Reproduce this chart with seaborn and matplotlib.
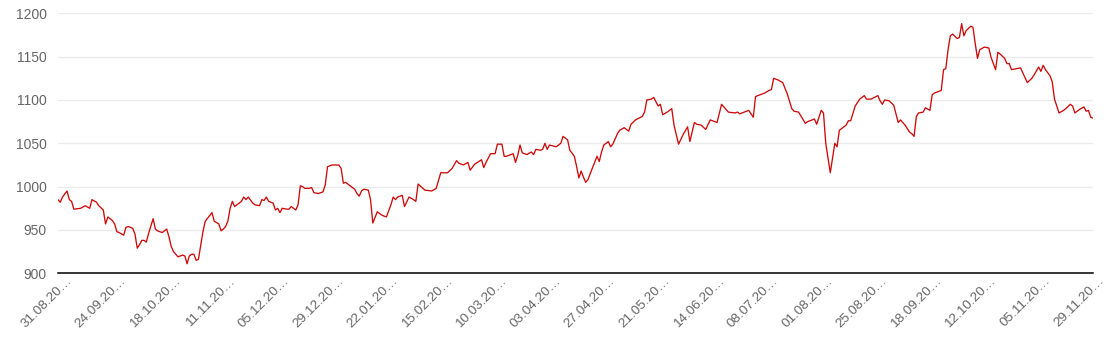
import numpy as np
import pandas as pd
import matplotlib
matplotlib.use("Agg")
import matplotlib.pyplot as plt
import matplotlib.transforms as mtransforms
import seaborn as sns

# ---- data ----
start_date = "2023-08-31"
day_offset = [
    0, 1, 2, 4, 5, 6, 7, 10, 12, 14, 15, 17, 18, 20, 21, 22, 24, 25, 26, 27,
    29, 30, 31, 33, 34, 35, 36, 37, 38, 39, 40, 42, 43, 44, 46, 48, 49, 50, 51, 53,
    55, 56, 57, 58, 59, 60, 61, 62, 64, 65, 68, 69, 71, 72, 73, 74, 75, 76, 77, 78,
    79, 81, 82, 83, 84, 86, 87, 89, 90, 91, 92, 93, 94, 95, 96, 97, 98, 99, 101, 102,
    103, 105, 106, 107, 108, 109, 111, 112, 113, 115, 117, 118, 119, 121, 124, 125, 126, 127, 129, 131,
    132, 133, 134, 135, 137,
    138, 139, 141, 143, 145, 147, 148, 149, 150, 152, 153, 155, 157, 158, 159, 162, 165, 167, 169, 172,
    174, 176, 177, 179, 181, 182, 184, 187, 188, 189, 191, 193, 194, 196, 197, 198, 201, 202, 203, 204,
    205, 207, 209, 210, 211, 213, 214, 215, 216, 217, 220, 222, 223, 225, 226, 228, 229, 230, 231, 232,
    233, 234, 235, 238, 239, 240, 241, 243, 244, 245, 247, 248, 250, 252, 253, 255, 258, 259, 260, 262,
    263, 265, 266, 267, 269, 271, 272, 274, 276, 278, 279, 281, 282, 284, 286, 288, 289, 291, 293, 296,
    299, 300, 301,
    303, 305, 307, 308, 310, 312, 314, 315, 316, 318, 320, 322, 324, 325, 327, 330, 331, 334, 335, 337,
    338, 339, 341, 343, 344, 345, 347, 348, 349, 350, 352, 354, 356, 357, 359, 362, 363, 364, 365, 367,
    369, 371, 372, 374, 376, 377, 378, 379, 380, 382, 383, 385, 386, 387, 390, 391, 392, 393, 394, 395,
    397, 398, 399, 400, 401, 403, 404, 405, 406, 407, 409, 411, 412, 414, 415, 416, 418, 419, 420, 421,
    423, 425, 428, 430, 431, 433, 434, 435, 436, 438, 439, 440, 442, 444, 445, 447, 448, 449, 451, 453,
    454, 455, 456, 457,
]
price = [
    985, 982, 988, 995, 985, 983, 974, 975, 978, 975, 985, 982, 978, 973, 957, 965, 961, 957, 948, 947,
    944, 953, 954, 952, 945, 929, 933, 938, 938, 936, 946, 963, 951, 949, 947, 951, 942, 931, 925, 919,
    921, 920, 911, 920, 922, 922, 915, 916, 948, 960, 970, 960, 957, 949, 951, 954, 960, 975, 983, 977,
    979, 983, 988, 985, 988, 981, 979, 978, 985, 984, 988, 983, 982, 981, 973, 975, 970, 975, 974, 974,
    977, 973, 979, 1001, 1000, 998, 998, 999, 993, 992, 994, 1002, 1023, 1025, 1025, 1021, 1004, 1005, 1001, 997,
    992, 989, 995, 997, 996,
    985, 958, 971, 967, 965, 979, 988, 985, 988, 990, 977, 988, 985, 983, 1003, 996, 995, 998, 1016, 1016,
    1021, 1030, 1027, 1025, 1028, 1019, 1026, 1031, 1022, 1028, 1038, 1038, 1049, 1049, 1035, 1035, 1038, 1028, 1036, 1048,
    1039, 1037, 1040, 1037, 1043, 1042, 1043, 1050, 1043, 1048, 1046, 1050, 1058, 1054, 1042, 1035, 1023, 1010, 1018, 1011,
    1005, 1008, 1015, 1035, 1029, 1040, 1048, 1052, 1046, 1049, 1061, 1065, 1068, 1064, 1072, 1077, 1081, 1086, 1100, 1101,
    1103, 1093, 1095, 1083, 1086, 1090, 1071, 1049, 1060, 1069, 1052, 1074, 1072, 1071, 1066, 1077, 1076, 1074, 1095, 1086,
    1085, 1086, 1084,
    1086, 1088, 1080, 1104, 1106, 1108, 1111, 1112, 1125, 1123, 1120, 1107, 1090, 1087, 1086, 1073, 1075, 1078, 1072, 1088,
    1085, 1050, 1016, 1050, 1046, 1065, 1069, 1071, 1076, 1076, 1093, 1101, 1105, 1101, 1101, 1105, 1099, 1095, 1100, 1099,
    1094, 1074, 1077, 1071, 1063, 1061, 1058, 1081, 1085, 1086, 1091, 1088, 1106, 1108, 1111, 1135, 1136, 1158, 1174, 1176,
    1171, 1172, 1188, 1174, 1180, 1185, 1184, 1165, 1148, 1158, 1161, 1160, 1149, 1135, 1155, 1153, 1148, 1142, 1142, 1135,
    1136, 1137, 1120, 1125, 1129, 1138, 1133, 1140, 1135, 1128, 1121, 1101, 1085, 1088, 1090, 1095, 1093, 1085, 1089, 1092,
    1087, 1088, 1080, 1079,
]
y_ticks = [900, 950, 1000, 1050, 1100, 1150, 1200]
tick_step_days = 12
label_every = 2
total_days = 457

assert len(day_offset) == len(price)

t0 = pd.Timestamp(start_date)
df = pd.DataFrame({
    "date": t0 + pd.to_timedelta(day_offset, unit="D"),
    "price": price,
})

sns.set_style("white")
plt.rcParams["font.family"] = ["Liberation Sans", "DejaVu Sans"]

fig = plt.figure(figsize=(11.12, 3.38), dpi=100)
ax = fig.add_axes([58 / 1112, (338 - 273.3) / 338, (1093 - 58) / 1112, 260 / 338])

sns.lineplot(data=df, x="date", y="price", ax=ax, color="#cc0a0a", linewidth=0.95)

ax.set_xlim(t0, t0 + pd.Timedelta(days=total_days))
ax.set_ylim(900, 1200)
ax.set_yticks(y_ticks)
ax.set_yticklabels([str(v) for v in y_ticks])
ax.yaxis.grid(True, color="#ebebeb", linewidth=1.0)
ax.set_axisbelow(True)

tick_dates = [t0 + pd.Timedelta(days=d) for d in range(0, total_days, tick_step_days)]
ax.set_xticks(tick_dates)
labels = []
for i, d in enumerate(tick_dates):
    labels.append(d.strftime("%d.%m.20") + "\u2026" if i % label_every == 0 else "")
ax.set_xticklabels(labels)

for s in ["left", "right", "top"]:
    ax.spines[s].set_visible(False)
ax.spines["bottom"].set_color("black")
ax.spines["bottom"].set_linewidth(1.1)

ax.tick_params(axis="y", length=0, pad=8, labelsize=10, labelcolor="#666666")
ax.tick_params(axis="x", length=3.2, width=0.9, color="black", pad=1,
               labelsize=9.7, labelcolor="#666666", direction="out")

offset = mtransforms.ScaledTranslation(12 / 100, 0, fig.dpi_scale_trans)
for lbl in ax.get_xticklabels():
    lbl.set_rotation(45)
    lbl.set_rotation_mode("anchor")
    lbl.set_ha("right")
    lbl.set_va("center")
    lbl.set_transform(lbl.get_transform() + offset)

ax.set_xlabel("")
ax.set_ylabel("")

fig.savefig("out.png", dpi=100)
